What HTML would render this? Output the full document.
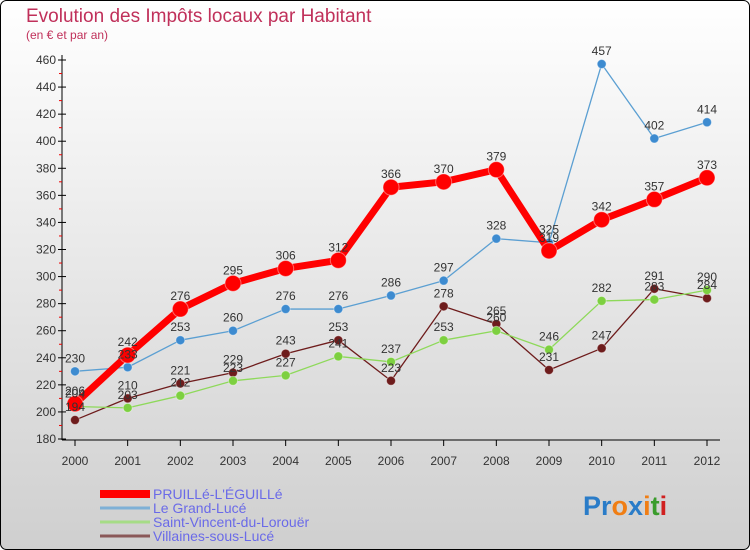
<!DOCTYPE html>
<html><head><meta charset="utf-8"><style>
body{margin:0;width:750px;height:550px;overflow:hidden;font-family:"Liberation Sans",sans-serif}
#c{position:absolute;left:0;top:0}
</style></head><body>
<svg id="c" width="750" height="550" xmlns="http://www.w3.org/2000/svg">
<defs><linearGradient id="bg" x1="0" y1="0" x2="0" y2="1"><stop offset="0" stop-color="#ffffff"/><stop offset="1" stop-color="#cfcfcf"/></linearGradient></defs>
<rect x="0.5" y="0.5" width="749" height="549" rx="6" fill="url(#bg)" stroke="#000"/>
<text x="26" y="22" font-size="19" fill="#c0305a">Evolution des Impôts locaux par Habitant</text>
<text x="26" y="39" font-size="12" fill="#c0305a">(en € et par an)</text>
<g id="axes"></g><g id="series"></g><g id="labels"></g><g id="legend"></g>
<text x="583" y="515" font-size="27" font-weight="bold"><tspan fill="#2a7cc8">Pr</tspan><tspan fill="#f07e14">o</tspan><tspan fill="#2a7cc8">x</tspan><tspan fill="#f07e14">i</tspan><tspan fill="#3a9c2c">t</tspan><tspan fill="#d02020">i</tspan></text>
</svg>
<script>
const years=[2000,2001,2002,2003,2004,2005,2006,2007,2008,2009,2010,2011,2012];
const yTicks=[180,200,220,240,260,280,300,320,340,360,380,400,420,440,460];
const seriesNames=["PRUILLé-L'ÉGUILLé","Le Grand-Lucé","Saint-Vincent-du-Lorouër","Villaines-sous-Lucé"];
const pruille=[206,242,276,295,306,312,366,370,379,319,342,357,373];
const grandLuce=[230,233,253,260,276,276,286,297,328,325,457,402,414];
const stVincent=[204,203,212,223,227,241,237,253,260,246,282,283,290];
const villaines=[194,210,221,229,243,253,223,278,265,231,247,291,284];
const NS="http://www.w3.org/2000/svg";
const X=i=>75+i*(707-75)/(years.length-1);
const Y=v=>439-(v-180)*(439-60)/280;
function el(t,a,p){const e=document.createElementNS(NS,t);for(const k in a)e.setAttribute(k,a[k]);p.appendChild(e);return e;}
const ax=document.getElementById('axes');
let l=el('line',{x1:62,y1:55,x2:62,y2:440,stroke:'#000'},ax);


l=el('line',{x1:62,y1:440,x2:720,y2:440,stroke:'#000'},ax);


yTicks.forEach(v=>{
 el('line',{x1:58,y1:Y(v),x2:66,y2:Y(v),stroke:'#000'},ax);
 if(v<460) el('line',{x1:59,y1:Y(v+10),x2:62,y2:Y(v+10),stroke:'#e00'},ax);
 const t=el('text',{x:56,y:Y(v)+4,'font-size':12,'text-anchor':'end',fill:'#333'},ax);t.textContent=v;
 
 
});
years.forEach((yr,i)=>{
 el('line',{x1:X(i),y1:440,x2:X(i),y2:446,stroke:'#000'},ax);
 const t=el('text',{x:X(i),y:465,'font-size':12,'text-anchor':'middle',fill:'#333'},ax);t.textContent=yr;
 
 
});
const defs=[[villaines,'#6e1c1c',1.3,4.5,'#6e1c1c'],[stVincent,'#8ed95a',1.3,4.5,'#7dd040'],[grandLuce,'#5b9fd2',1.3,4.5,'#3d8bd0'],[pruille,'#f00',7,8,'#f00']];
const names=['villaines-sous-luce','saint-vincent-du-lorouer','le-grand-luce','pruille-l-eguille'];
const sg=document.getElementById('series'),lg=document.getElementById('labels');
defs.forEach((d,k)=>{
 const g=el('g',{},sg);
 
 
 const p=el('polyline',{points:d[0].map((v,i)=>X(i)+','+Y(v)).join(' '),fill:'none',stroke:d[1],'stroke-width':d[2],'stroke-linejoin':'round'},g);
 
 
 d[0].forEach((v,i)=>{
  const c=el('circle',{cx:X(i),cy:Y(v),r:d[3],fill:d[4],stroke:'#fff','stroke-opacity':0.4},g);
  
  
  const t=el('text',{x:X(i),y:Y(v)-9,'font-size':12,'text-anchor':'middle',fill:'#333'},lg);t.textContent=v;
  
  
 });
});
const lgd=document.getElementById('legend');
const lc=['#f00','#7eb0d6','#a6dc86','#8a5858'],lw=[8,3,3,3];
seriesNames.forEach((n,i)=>{
 const y=497+i*14;
 const g=el('g',{},lgd);
 
 
 el('line',{x1:100,y1:y-3,x2:150,y2:y-3,stroke:lc[i],'stroke-width':lw[i]},g);
 const t=el('text',{x:153,y:y+2,'font-size':14,fill:'#6a6ae8'},g);t.textContent=n;
});
</script>
</body></html>
